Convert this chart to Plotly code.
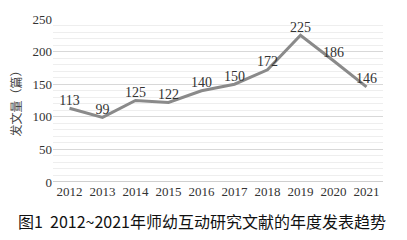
import plotly.graph_objects as go

years = ["2012", "2013", "2014", "2015", "2016", "2017", "2018", "2019", "2020", "2021"]
counts = [113, 99, 125, 122, 140, 150, 172, 225, 186, 146]
y_ticks = [0, 50, 100, 150, 200, 250]

fig = go.Figure()
fig.add_trace(go.Scatter(
    x=years, y=counts, mode="lines+text",
    line=dict(color="#8a8a8a", width=3),
    text=[str(v) for v in counts], textposition="top center",
    textfont=dict(family="Liberation Serif", size=14, color="#333333"),
    cliponaxis=False, showlegend=False,
))

fig.update_layout(
    width=407, height=240,
    margin=dict(l=53, r=24, t=13, b=58),
    paper_bgcolor="white", plot_bgcolor="white",
    font=dict(family="Liberation Serif", size=13, color="#333333"),
    xaxis=dict(type="category", showgrid=False, showline=False, ticks="",
               tickfont=dict(size=13, color="#333333")),
    yaxis=dict(range=[0, 250], tickvals=y_ticks, showgrid=True, gridcolor="#d8d8d8",
               gridwidth=1, zeroline=False, showline=False, ticks="",
               ticklen=0, tickfont=dict(size=13, color="#333333"),
               minor=dict(dtick=10, showgrid=True, gridcolor="#eeeeee", gridwidth=1),
               title=dict(text="发文量（篇）", standoff=8,
                          font=dict(family="Noto Sans CJK SC", size=12, color="#444444"))),
    annotations=[dict(text="图1  2012~2021年师幼互动研究文献的年度发表趋势",
                      xref="paper", yref="paper", x=0.45, y=-0.24, xanchor="center",
                      yanchor="middle", showarrow=False,
                      font=dict(family="Noto Sans CJK SC", size=16, color="#111111"))],
)
fig.add_shape(type="line", xref="paper", yref="y", x0=0, x1=1, y0=0, y1=0,
              line=dict(color="#cfcfcf", width=2))

fig.write_html("out.html")
